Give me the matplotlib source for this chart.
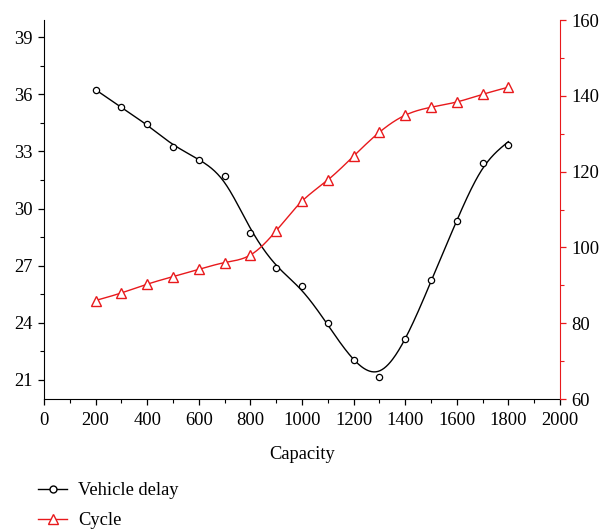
import numpy as np
import matplotlib
matplotlib.use('Agg')
import matplotlib.pyplot as plt
from matplotlib.lines import Line2D
from matplotlib.ticker import MultipleLocator

capacity = [200, 300, 400, 500, 600, 700, 800, 900, 1000,
            1100, 1200, 1300, 1400, 1500, 1600, 1700, 1800]
vehicle_delay = [36.24, 35.32, 34.42, 33.24, 32.55, 31.73, 28.74, 26.86, 25.91,
                 24.01, 22.07, 21.16, 23.15, 26.24, 29.34, 32.42, 33.32]
cycle = [86.0, 88.0, 90.3, 92.3, 94.2, 96.0, 98.0, 104.4, 112.2,
         117.8, 124.1, 130.4, 134.9, 137.0, 138.4, 140.4, 142.3]


def smooth(y, lam):
    # penalised least squares (second differences)
    n = len(y)
    d = np.diff(np.eye(n), 2, axis=0)
    return np.linalg.solve(np.eye(n) + lam * d.T @ d, np.asarray(y, float))


def spline(x, y, xs):
    # natural cubic spline
    x = np.asarray(x, float)
    y = np.asarray(y, float)
    n = len(x)
    h = np.diff(x)
    a = np.zeros((n, n))
    b = np.zeros(n)
    a[0, 0] = a[-1, -1] = 1
    for i in range(1, n - 1):
        a[i, i - 1] = h[i - 1]
        a[i, i] = 2 * (h[i - 1] + h[i])
        a[i, i + 1] = h[i]
        b[i] = 6 * ((y[i + 1] - y[i]) / h[i] - (y[i] - y[i - 1]) / h[i - 1])
    m = np.linalg.solve(a, b)
    k = np.clip(np.searchsorted(x, xs) - 1, 0, n - 2)
    t = xs - x[k]
    hk = h[k]
    return (m[k] * (x[k + 1] - xs) ** 3 / (6 * hk) + m[k + 1] * t ** 3 / (6 * hk)
            + (y[k] / hk - m[k] * hk / 6) * (x[k + 1] - xs)
            + (y[k + 1] / hk - m[k + 1] * hk / 6) * t)


plt.rcParams['font.family'] = ['Liberation Serif', 'DejaVu Serif']
plt.rcParams['font.size'] = 13.3

fig = plt.figure(figsize=(6.09, 5.29), dpi=100)
ax = fig.add_axes([0.0722, 0.2457, 0.8473, 0.7163])
ax2 = ax.twinx()

xs = np.linspace(200, 1800, 400)
delay_curve = spline(capacity, smooth(vehicle_delay, 0.15), xs)
cycle_curve = spline(capacity, cycle, xs)

ax.plot(xs, delay_curve, color='black', lw=1.0)
ax.plot(capacity, vehicle_delay, 'o', mfc='white', mec='black', ms=4.5, mew=0.9)
ax2.plot(xs, cycle_curve, color='#e8191c', lw=1.0)
ax2.plot(capacity, cycle, '^', mfc='white', mec='#e8191c', ms=7, mew=1.0)

ax.set_xlim(0, 2000)
ax.set_ylim(20, 39.9)
ax2.set_ylim(60, 160)

ax.xaxis.set_major_locator(MultipleLocator(200))
ax.xaxis.set_minor_locator(MultipleLocator(100))
ax.yaxis.set_major_locator(MultipleLocator(3))
ax.yaxis.set_minor_locator(MultipleLocator(1.5))
ax2.yaxis.set_major_locator(MultipleLocator(20))
ax2.yaxis.set_minor_locator(MultipleLocator(10))

for a in (ax, ax2):
    a.spines['top'].set_visible(False)
ax2.spines['left'].set_visible(False)
ax2.spines['bottom'].set_visible(False)
ax.spines['right'].set_visible(False)
ax2.spines['right'].set_color('#e8191c')

ax.tick_params(which='major', length=4.5, width=0.9, direction='out')
ax.tick_params(which='minor', length=3, width=0.8, direction='out')
ax.tick_params(axis='x', which='major', pad=5)
ax2.tick_params(which='major', length=4.5, width=0.9, color='#e8191c')
ax2.tick_params(which='minor', length=3, width=0.8, color='#e8191c')

ax.set_xlabel('Capacity', labelpad=12)

handles = [Line2D([], [], color='black', lw=1.0, marker='o', mfc='white', mec='black', ms=5),
           Line2D([], [], color='#e8191c', lw=1.0, marker='^', mfc='white', mec='#e8191c', ms=7)]
fig.legend(handles, ['Vehicle delay', 'Cycle'], loc='lower left',
           bbox_to_anchor=(0.062, 0.0), frameon=False, handlelength=1.6,
           handletextpad=0.6, labelspacing=0.68, borderpad=0, borderaxespad=0)

fig.savefig('out.png', dpi=100)
